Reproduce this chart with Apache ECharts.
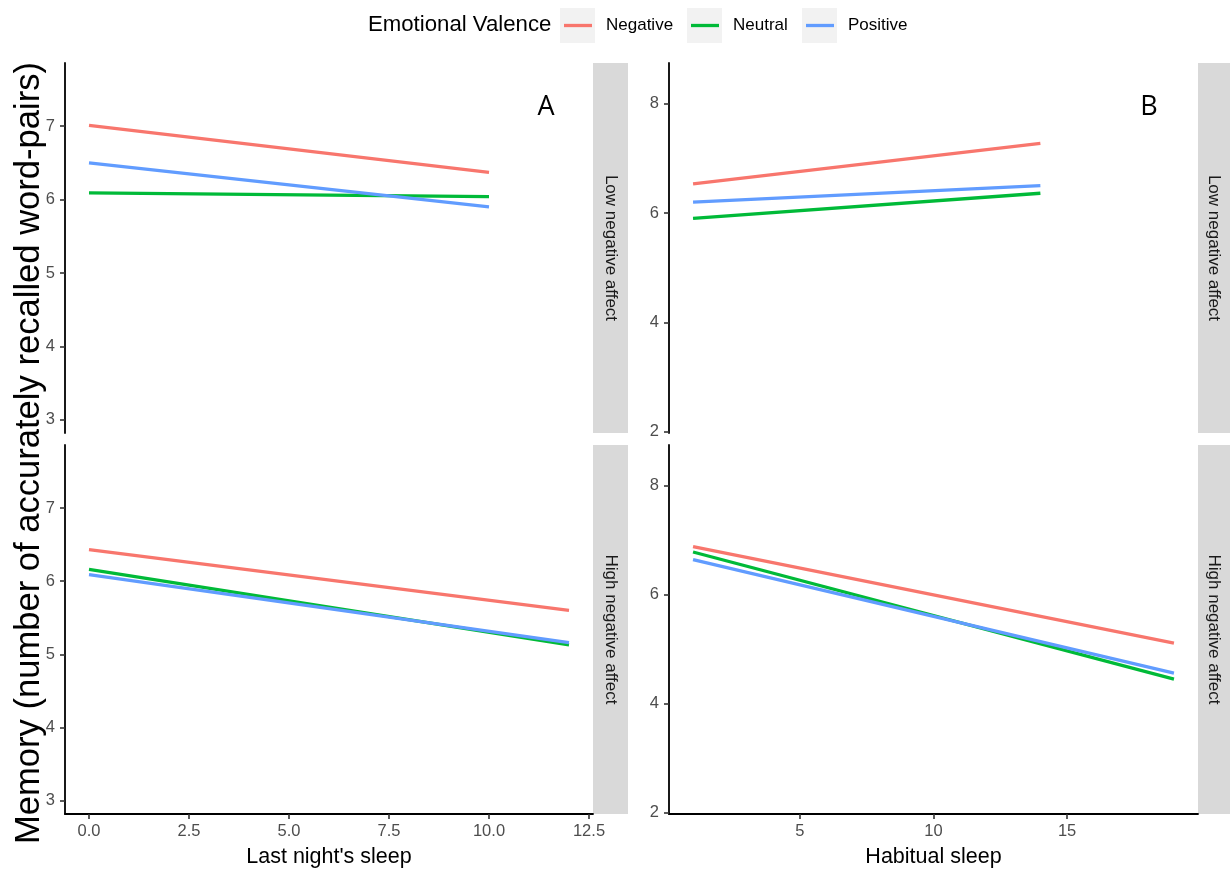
<!DOCTYPE html>
<html>
<head>
<meta charset="utf-8">
<script src="https://cdn.jsdelivr.net/npm/echarts@6/dist/echarts.min.js"></script>
<style>
  html, body { margin: 0; padding: 0; background: #fff; }
  #chart { width: 1230px; height: 871px; }
</style>
</head>
<body>
<div id="chart"></div>
<script>
// groups + colours (ggplot defaults)
var valences = ["Negative", "Neutral", "Positive"];
var colors = ["#F8766D", "#00BA38", "#619CFF"];
var strips = ["Low negative affect", "High negative affect"];

// A: last night's sleep (fitted line end points)
var aLowX = [0, 10];
var aLowNeg = [7.01, 6.37];
var aLowNeu = [6.09, 6.04];
var aLowPos = [6.50, 5.90];
var aHighX = [0, 12];
var aHighNeg = [6.43, 5.60];
var aHighNeu = [6.16, 5.13];
var aHighPos = [6.09, 5.16];

// B: habitual sleep
var bLowX = [1, 14];
var bLowNeg = [6.53, 7.27];
var bLowNeu = [5.90, 6.36];
var bLowPos = [6.20, 6.50];
var bHighX = [1, 19];
var bHighNeg = [6.88, 5.11];
var bHighNeu = [6.78, 4.45];
var bHighPos = [6.64, 4.56];

// tick labels
var aXTicks = [0, 2.5, 5, 7.5, 10, 12.5];
var aYTicks = [3, 4, 5, 6, 7];
var bXTicks = [5, 10, 15];
var bYTicks = [2, 4, 6, 8];

var font = "Liberation Sans, Arial, sans-serif";
var chart = echarts.init(document.getElementById("chart"));

function pts(xs, ys) {
  var out = [];
  for (var i = 0; i < xs.length; i++) out.push([xs[i], ys[i]]);
  return out;
}

// panels: grid box + axis ranges
var panels = [
  { grid: { left: 65, top: 63, width: 528, height: 370 }, xr: [-0.6, 12.6], yr: [2.82, 7.86], xt: aXTicks, yt: aYTicks, bottom: false, x: aLowX, ys: [aLowNeg, aLowNeu, aLowPos], dec: 1 },
  { grid: { left: 65, top: 445, width: 528, height: 369 }, xr: [-0.6, 12.6], yr: [2.82, 7.86], xt: aXTicks, yt: aYTicks, bottom: true, name: "Last night's sleep", x: aHighX, ys: [aHighNeg, aHighNeu, aHighPos], dec: 1 },
  { grid: { left: 669, top: 63, width: 529, height: 370 }, xr: [0.1, 19.9], yr: [1.98, 8.74], xt: bXTicks, yt: bYTicks, bottom: false, x: bLowX, ys: [bLowNeg, bLowNeu, bLowPos], dec: 0 },
  { grid: { left: 669, top: 445, width: 529, height: 369 }, xr: [0.1, 19.9], yr: [1.98, 8.74], xt: bXTicks, yt: bYTicks, bottom: true, name: "Habitual sleep", x: bHighX, ys: [bHighNeg, bHighNeu, bHighPos], dec: 0 }
];

var grids = [], xAxes = [], yAxes = [], series = [], graphics = [];
var axisLine = { show: true, onZero: false, lineStyle: { color: "#000", width: 1.8 } };
var axisTick = { lineStyle: { color: "#333", width: 1.6 }, length: 5 };
var tickText = { color: "#4D4D4D", fontSize: 16.5, fontFamily: font };

panels.forEach(function (p, gi) {
  grids.push(p.grid);
  xAxes.push({
    type: "value", gridIndex: gi, min: p.xr[0], max: p.xr[1],
    axisLine: p.bottom ? axisLine : { show: false, onZero: false },
    axisTick: p.bottom ? Object.assign({ show: true, customValues: p.xt }, axisTick) : { show: false },
    axisLabel: p.bottom ? Object.assign({ show: true, margin: 9, customValues: p.xt,
      formatter: function (v) { return v.toFixed(p.dec); } }, tickText) : { show: false },
    splitLine: { show: false },
    name: p.name || "", nameLocation: "middle", nameGap: 32,
    nameTextStyle: { color: "#000", fontSize: 21.5, fontFamily: font }
  });
  yAxes.push({
    type: "value", gridIndex: gi, min: p.yr[0], max: p.yr[1],
    axisLine: axisLine,
    axisTick: Object.assign({ show: true, customValues: p.yt }, axisTick),
    axisLabel: Object.assign({ show: true, margin: 10, customValues: p.yt }, tickText),
    splitLine: { show: false }
  });
  p.ys.forEach(function (ys, k) {
    series.push({
      name: valences[k], type: "line", xAxisIndex: gi, yAxisIndex: gi,
      data: pts(p.x, ys), showSymbol: false, silent: true,
      lineStyle: { color: colors[k], width: 3.3 }, itemStyle: { color: colors[k] }
    });
  });
  // facet strip on the right side
  var sx = p.grid.left + p.grid.width;
  var sw = gi < 2 ? 35 : 32;
  graphics.push({ type: "rect", shape: { x: sx, y: p.grid.top, width: sw, height: p.grid.height },
    style: { fill: "#D9D9D9" }, silent: true });
  graphics.push({ type: "text", x: sx + sw / 2, y: p.grid.top + p.grid.height / 2, rotation: -Math.PI / 2,
    style: { text: strips[gi % 2], fill: "#1A1A1A", font: "17px " + font, align: "center", verticalAlign: "middle" } });
});

// panel letters
graphics.push({ type: "text", x: 546, y: 107, style: { text: "A", fill: "#000", font: "27px 'Open Sans', sans-serif", align: "center", verticalAlign: "middle" } });
graphics.push({ type: "text", x: 1149, y: 107, style: { text: "B", fill: "#000", font: "27px 'Open Sans', sans-serif", align: "center", verticalAlign: "middle" } });

// y title
graphics.push({ type: "text", x: 29, y: 453, rotation: Math.PI / 2,
  style: { text: "Memory (number of accurately recalled word-pairs)", fill: "#000", font: "34.6px " + font, align: "center", verticalAlign: "middle" } });

// legend
graphics.push({ type: "text", x: 368, y: 25, style: { text: "Emotional Valence", fill: "#000", font: "22.2px " + font, align: "left", verticalAlign: "middle" } });
var keyX = [560, 687, 802];
valences.forEach(function (v, k) {
  graphics.push({ type: "rect", shape: { x: keyX[k], y: 8, width: 35, height: 35 }, style: { fill: "#F2F2F2" }, silent: true });
  graphics.push({ type: "line", shape: { x1: keyX[k] + 4, y1: 25.5, x2: keyX[k] + 32, y2: 25.5 }, style: { stroke: colors[k], lineWidth: 3.3 } });
  graphics.push({ type: "text", x: keyX[k] + 46, y: 25, style: { text: v, fill: "#000", font: "17px " + font, align: "left", verticalAlign: "middle" } });
});

var option = {
  animation: false,
  backgroundColor: "#fff",
  grid: grids,
  xAxis: xAxes,
  yAxis: yAxes,
  series: series,
  graphic: graphics
};
chart.setOption(option);
</script>
</body>
</html>
